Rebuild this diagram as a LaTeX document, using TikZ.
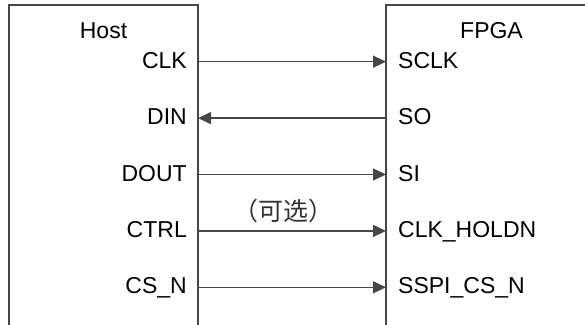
\documentclass[tikz,border=0pt]{standalone}
\usepackage{fontspec}
\setmainfont{Liberation Sans}
\newfontfamily\cjk{Noto Sans CJK SC}
\usetikzlibrary{arrows.meta}
\definecolor{linegray}{RGB}{70,70,70}
\tikzset{
  box/.style={draw=linegray, line width=1.5pt},
  sig/.style={draw=linegray, line width=1.5pt, -{Triangle[length=13pt,width=12pt]}},
  lbl/.style={inner sep=0pt, font=\fontsize{23}{27}\selectfont}
}
\begin{document}
\begin{tikzpicture}[x=1pt,y=1pt]
    \useasboundingbox (0, 0) rectangle (585, -324);
    % the two blocks, open at the bottom
    \draw[box] (9, -340) |- (198, -5) -- (198, -340);
    \draw[box] (386, -340) |- (600, -5);

    \node[lbl, anchor=base] (host) at (103.5, -38) {Host};
    \node[lbl, anchor=base] (fpga) at (491.5, -38) {FPGA};

    % host pins
    \node[lbl, anchor=base east] (clk) at (187, -68.2) {CLK};
    \node[lbl, anchor=base east] (din) at (187, -124.6) {DIN};
    \node[lbl, anchor=base east] (dout) at (187, -181) {DOUT};
    \node[lbl, anchor=base east] (ctrl) at (187, -237.4) {CTRL};
    \node[lbl, anchor=base east] (csn) at (187, -293.8) {CS\_N};

    % fpga pins
    \node[lbl, anchor=base west] (sclk) at (398, -68.2) {SCLK};
    \node[lbl, anchor=base west] (so) at (398, -124.6) {SO};
    \node[lbl, anchor=base west] (si) at (398, -181) {SI};
    \node[lbl, anchor=base west] (holdn) at (398, -237.4) {CLK\_HOLDN};
    \node[lbl, anchor=base west] (sspi) at (398, -293.8) {SSPI\_CS\_N};

    % pin points on the block edges
    \coordinate (h1) at (198, -61.7);
    \coordinate (h2) at (198, -118.1);
    \coordinate (h3) at (198, -174.5);
    \coordinate (h4) at (198, -230.9);
    \coordinate (h5) at (198, -287.3);
    \coordinate (f1) at (386, -61.7);
    \coordinate (f2) at (386, -118.1);
    \coordinate (f3) at (386, -174.5);
    \coordinate (f4) at (386, -230.9);
    \coordinate (f5) at (386, -287.3);

    \draw[sig] (h1) -- (f1);
    \draw[sig] (f2) -- (h2);
    \draw[sig] (h3) -- (f3);
    \draw[sig] (h4) -- (f4);
    \draw[sig] (h5) -- (f5);

    \node[lbl, font=\cjk\fontsize{25}{29}\selectfont, text=black!80] (opt) at (283, -211) {（可选）};
  \end{tikzpicture}
\end{document}
